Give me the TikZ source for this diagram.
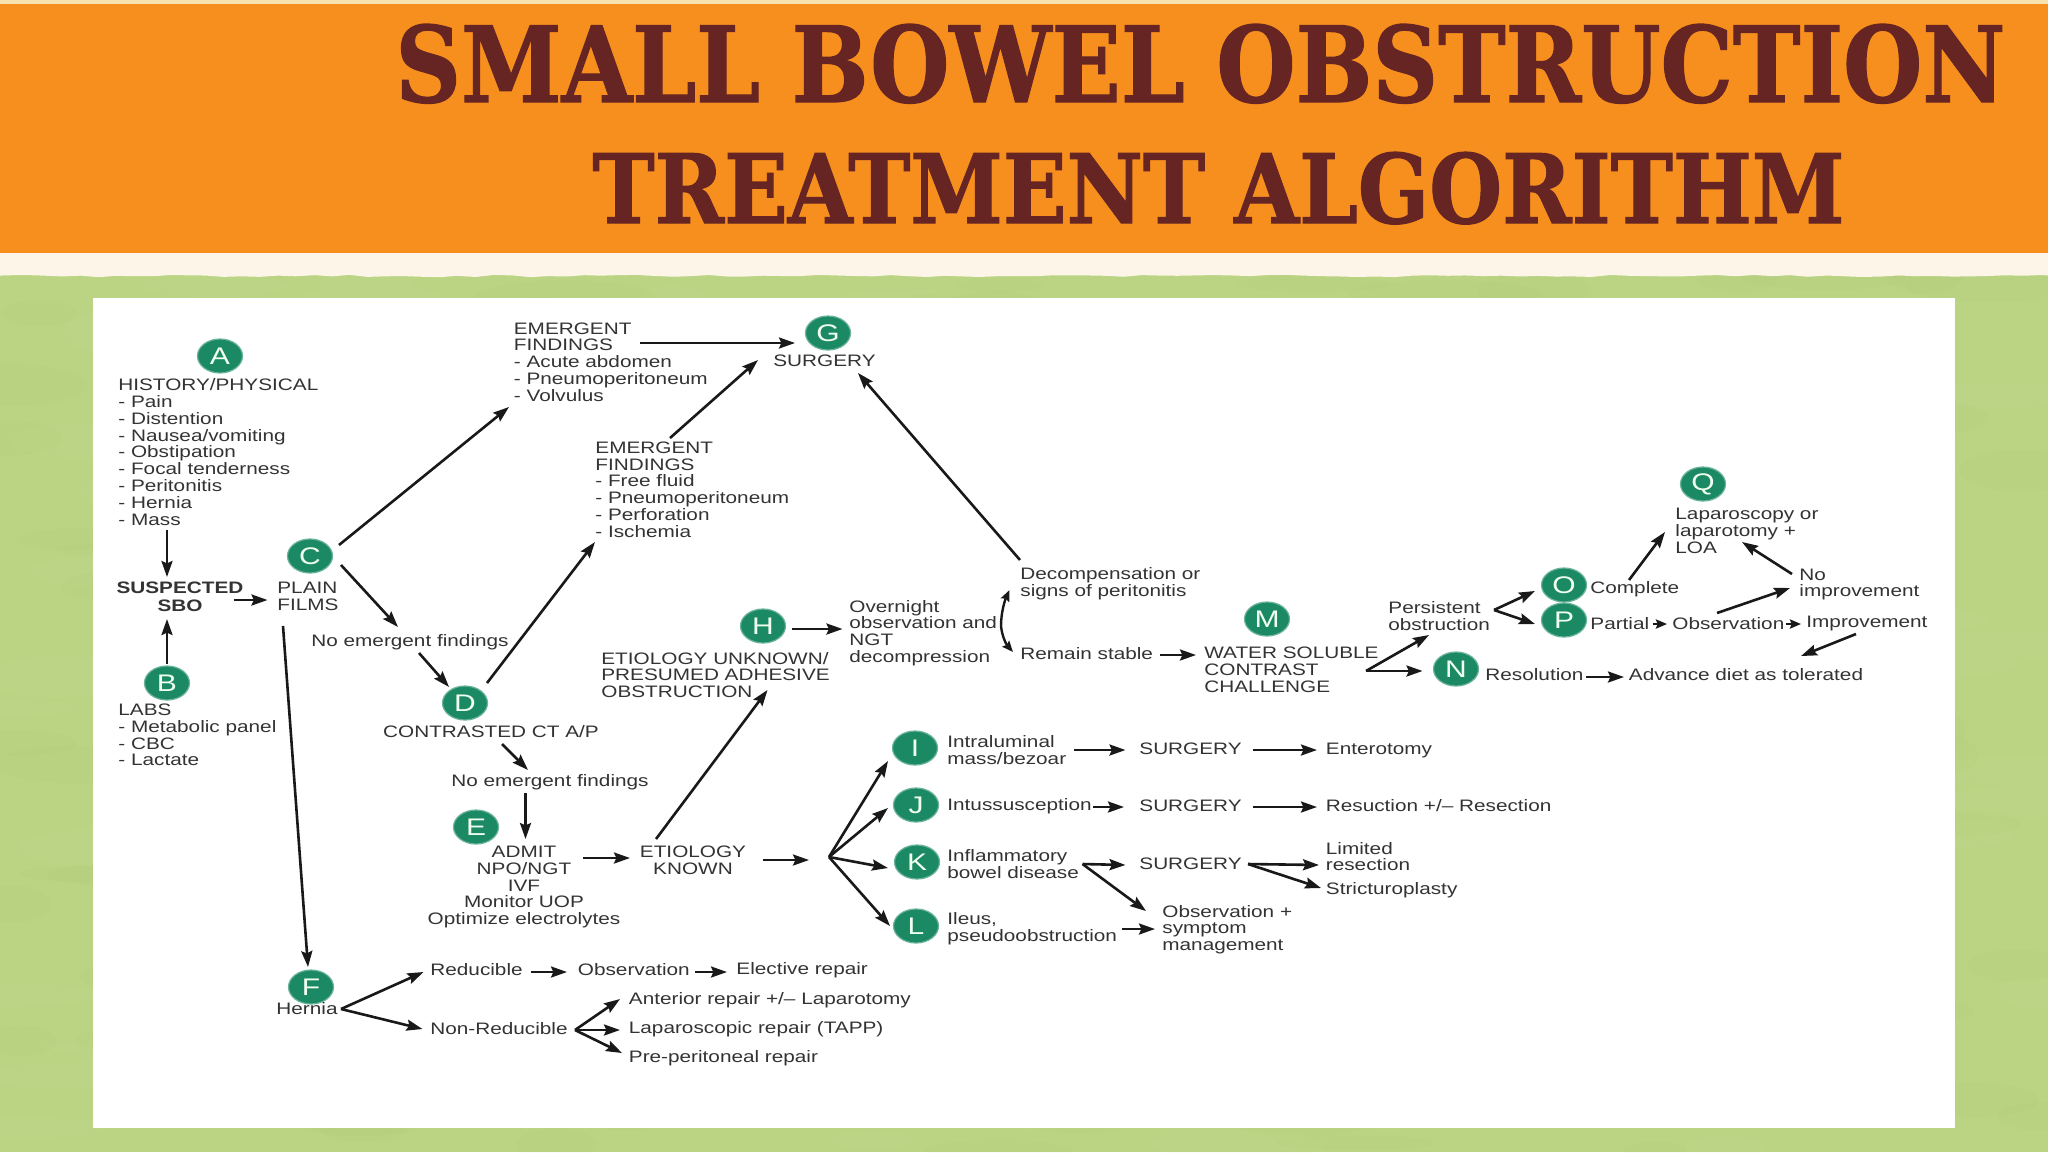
\documentclass[tikz,border=0pt]{standalone}
\usepackage{fontspec}
\usepackage{graphicx}
\usetikzlibrary{arrows.meta,decorations.pathmorphing,shapes.geometric}
\newfontfamily\dsf[FakeStretch=1.25]{Liberation Sans}
\newfontfamily\ttlf[FakeBold=1.2]{DejaVu Serif}
\definecolor{orangeb}{HTML}{F78F1E}
\definecolor{greenb}{HTML}{BAD484}
\definecolor{greend}{HTML}{9DBB68}
\definecolor{greenl}{HTML}{CBE094}
\definecolor{creamb}{HTML}{FDF6E8}
\definecolor{stripb}{HTML}{F6E3AD}
\definecolor{ttlc}{HTML}{662522}
\definecolor{tealc}{HTML}{1B8A64}
\definecolor{ink}{HTML}{333333}
\tikzset{
  txt/.style={inner sep=0pt,anchor=west,align=left,text=ink,font=\dsf\fontsize{8.3}{8.4}\selectfont},
  ctxt/.style={inner sep=0pt,anchor=center,align=center,text=ink,font=\dsf\fontsize{8.3}{8.4}\selectfont},
  bctxt/.style={ctxt,font=\dsf\bfseries\fontsize{8.3}{8.8}\selectfont},
  badge/.style={ellipse,fill=tealc,draw=tealc!65!white,line width=0.6pt,minimum width=22.5pt,minimum height=17pt,inner sep=0pt,text=green!6!white,font=\dsf\fontsize{12}{12}\selectfont},
  arr/.style={draw=black!90,line width=1.3pt,-{Stealth[length=8pt,width=5.5pt,inset=1.2pt]}},
  arrs/.style={draw=black!90,line width=1.2pt,-{Stealth[length=5.5pt,width=4.5pt,inset=0.8pt]}},
  ttl/.style={inner sep=0pt,text=ttlc,anchor=base west}
}
\begin{document}
\begin{tikzpicture}[x=0.5pt,y=-0.5pt]
\useasboundingbox (0,0) rectangle (2048,1152);
% backdrop
\fill[greenb] (0,0) rectangle (2048,1152);
\pgfmathsetseed{7}
\foreach \k in {1,...,170}{
  \pgfmathsetmacro{\mx}{rnd*2048}
  \pgfmathsetmacro{\my}{270+rnd*882}
  \pgfmathsetmacro{\ra}{30+rnd*70}
  \pgfmathsetmacro{\rb}{6+rnd*16}
  \fill[greend,opacity=0.05] (\mx,\my) ellipse [x radius=\ra,y radius=\rb];
  \pgfmathsetmacro{\mx}{rnd*2048}
  \pgfmathsetmacro{\my}{270+rnd*882}
  \fill[greenl,opacity=0.08] (\mx,\my) ellipse [x radius=\ra,y radius=\rb];
}
\fill[stripb] (0,0) rectangle (2048,5);
\fill[creamb,decorate,decoration={random steps,segment length=9pt,amplitude=0.6pt}] (-10,240) -- (-10,276) -- (2058,276) -- (2058,240) -- cycle;
\fill[orangeb] (0,4) rectangle (2048,253);
\fill[white] (93,298) rectangle (1955,1128);
% title
\node[ttl] (title1) at (395,102) {\resizebox{805pt}{39pt}{\ttlf\bfseries SMALL BOWEL OBSTRUCTION}};
\node[ttl] (title2) at (592,223) {\resizebox{626pt}{35.5pt}{\ttlf\bfseries TREATMENT ALGORITHM}};
% badges
\foreach \nm/\px/\py in {A/220/356,B/167/683,C/310/556,D/465/703,E/476/827,F/311/987,G/828/333,H/763/626,I/915/748,J/916/805,K/917/862,L/916/926,M/1267/619,N/1456/669,O/1564/585,P/1564/620,Q/1703/484}
  \node[badge] (c\nm) at (\px,\py) {\nm};
% left column
\node[txt] (tA) at (118,452) {HISTORY/PHYSICAL\\- Pain\\- Distention\\- Nausea/vomiting\\- Obstipation\\- Focal tenderness\\- Peritonitis\\- Hernia\\- Mass};
\node[bctxt] (tSBO) at (180,597) {SUSPECTED\\SBO};
\node[txt] (tC) at (277,596.5) {PLAIN\\FILMS};
\node[txt] (tB) at (118,735) {LABS\\- Metabolic panel\\- CBC\\- Lactate};
\node[ctxt] (tNEF1) at (410,642) {No emergent findings};
\node[ctxt] (tCT) at (491,732) {CONTRASTED CT A/P};
\node[txt] (tEF1) at (513.5,362) {EMERGENT\\FINDINGS\\- Acute abdomen\\- Pneumoperitoneum\\- Volvulus};
\node[txt] (tEF2) at (595,489.5) {EMERGENT\\FINDINGS\\- Free fluid\\- Pneumoperitoneum\\- Perforation\\- Ischemia};
\node[ctxt] (tG) at (824.5,361) {SURGERY};
\node[txt] (tH) at (849,633) {Overnight\\observation and\\NGT\\decompression};
\node[txt] (tU) at (601,675) {ETIOLOGY UNKNOWN/\\PRESUMED ADHESIVE\\OBSTRUCTION};
\node[ctxt] (tNEF2) at (550,782) {No emergent findings};
\node[ctxt] (tE) at (524,887) {ADMIT\\NPO/NGT\\IVF\\Monitor UOP\\Optimize electrolytes};
\node[ctxt] (tK) at (693,860.5) {ETIOLOGY\\KNOWN};
\coordinate (jK) at (829,857);
% I-L rows
\node[txt] (tI) at (947,750) {Intraluminal\\mass/bezoar};
\node[txt] (sI) at (1139,749) {SURGERY};
\node[txt] (tIe) at (1325.5,750) {Enterotomy};
\node[txt] (tJ) at (947,806) {Intussusception};
\node[txt] (sJ) at (1139,806) {SURGERY};
\node[txt] (tJe) at (1325.5,806) {Resuction +/– Resection};
\node[txt] (tKk) at (947,864) {Inflammatory\\bowel disease};
\node[txt] (sK) at (1139,864) {SURGERY};
\coordinate (jKa) at (1082.5,864);
\coordinate (jKb) at (1248,864);
\node[txt] (tLim) at (1325.5,856.5) {Limited\\resection};
\node[txt] (tStr) at (1325.5,890) {Stricturoplasty};
\node[txt] (tL) at (947,929) {Ileus,\\pseudoobstruction};
\node[txt] (tObs) at (1162,929.5) {Observation +\\symptom\\management};
% upper right
\node[txt] (tDec) at (1020,583.5) {Decompensation or\\signs of peritonitis};
\node[txt] (tRem) at (1020,654) {Remain stable};
\coordinate (jB) at (1001,626);
\node[txt] (tW) at (1204,670) {WATER SOLUBLE\\CONTRAST\\CHALLENGE};
\coordinate (jW) at (1366,671);
\node[txt] (tPer) at (1388,616) {Persistent\\obstruction};
\coordinate (jP) at (1494,610);
\node[txt] (tRes) at (1485,675) {Resolution};
\node[txt] (tAdv) at (1628.5,675) {Advance diet as tolerated};
\node[txt] (tCom) at (1590,589) {Complete};
\node[txt] (tPar) at (1590,623.5) {Partial};
\node[txt] (tOb) at (1672,623.5) {Observation};
\node[txt] (tImp) at (1806,623.5) {Improvement};
\node[txt] (tNo) at (1799,584.5) {No\\improvement};
\node[txt] (tLap) at (1675,531) {Laparoscopy or\\laparotomy +\\LOA};
% hernia
\node[ctxt] (tF) at (307,1009) {Hernia};
\coordinate (jF) at (341,1009);
\node[txt] (tRed) at (430,970) {Reducible};
\node[txt] (tObF) at (577.5,970) {Observation};
\node[txt] (tEl) at (736,970) {Elective repair};
\node[txt] (tNon) at (430,1029) {Non-Reducible};
\coordinate (jN) at (575,1030);
\node[txt] (tAnt) at (628.5,1000) {Anterior repair +/– Laparotomy};
\node[txt] (tLapr) at (628.5,1029) {Laparoscopic repair (TAPP)};
\node[txt] (tPre) at (628.5,1058) {Pre-peritoneal repair};
% connectors
\draw[arr] ([shift={(49,78)}]tA.west) -- ([shift={(-13,-20)}]tSBO.center);
\draw[arr] ([shift={(54,3)}]tSBO.center) -- ([shift={(-9.5,3.5)}]tC.west);
\draw[arr] ([shift={(0,-19)}]cB.center) -- ([shift={(-13,22)}]tSBO.center);
\draw[arr] ([shift={(29,-11)}]cC.center) -- ([shift={(-4.5,45)}]tEF1.west);
\draw[arr] ([shift={(31,9)}]cC.center) -- ([shift={(-12,-15)}]tNEF1.center);
\draw[arr] ([shift={(9,11)}]tNEF1.center) -- ([shift={(-16,-16)}]cD.center);
\draw[arr] ([shift={(22,-20)}]cD.center) -- ([shift={(0,52.5)}]tEF2.west);
\draw[arr] ([shift={(126.5,-19)}]tEF1.west) -- ([shift={(-33,10)}]cG.center);
\draw[arr] ([shift={(75,-51.5)}]tEF2.west) -- ([shift={(-66.5,-1)}]tG.center);
\draw[arr] ([shift={(0,-23.5)}]tDec.west) -- ([shift={(33.5,12)}]tG.center);
\draw[arr] ([shift={(28.5,3)}]cH.center) -- ([shift={(-6.5,-4)}]tH.west);
\draw[arr] ([shift={(-37,-21.5)}]tK.center) -- ([shift={(166.5,15)}]tU.west);
\draw[arr] ([shift={(11,12)}]tCT.center) -- ([shift={(-22,-12)}]tNEF2.center);
\draw[arr] ([shift={(-24.5,11)}]tNEF2.center) -- ([shift={(1.5,-48)}]tE.center);
\draw[arr] ([shift={(59,-29)}]tE.center) -- ([shift={(-63,-2.5)}]tK.center);
\draw[arr] ([shift={(70,-0.5)}]tK.center) -- ([shift={(-20,3)}]jK);
\draw[arr] (jK) -- ([shift={(-27,13)}]cI.center);
\draw[arr] (jK) -- ([shift={(-28,3)}]cJ.center);
\draw[arr] (jK) -- ([shift={(-29,6)}]cK.center);
\draw[arr] (jK) -- ([shift={(-26,0)}]cL.center);
\draw[arr] ([shift={(127,0)}]tI.west) -- ([shift={(-13.5,1)}]sI.west);
\draw[arr] ([shift={(114,1)}]sI.west) -- ([shift={(-8.5,0)}]tIe.west);
\draw[arr] ([shift={(146,1)}]tJ.west) -- ([shift={(-15,1)}]sJ.west);
\draw[arr] ([shift={(114,1)}]sJ.west) -- ([shift={(-8.5,1)}]tJe.west);
\draw[arr] (jKa) -- ([shift={(-13.5,1)}]sK.west);
\draw[arr] (jKa) -- ([shift={(-16,-18.5)}]tObs.west);
\draw[arr] (jKb) -- ([shift={(-6.5,8.5)}]tLim.west);
\draw[arr] (jKb) -- ([shift={(-4.5,-2)}]tStr.west);
\draw[arr] ([shift={(175,0)}]tL.west) -- ([shift={(-7,-0.5)}]tObs.west);
\draw[arrs] (jB) .. controls (1001,612) and (1005,600) .. ([shift={(-10.5,6.5)}]tDec.west);
\draw[arrs] (jB) .. controls (1002,636) and (1006,644) .. ([shift={(-7,-2)}]tRem.west);
\draw[arr] ([shift={(140,1)}]tRem.west) -- ([shift={(-8,-15)}]tW.west);
\draw[arr] (jW) -- ([shift={(41,19)}]tPer.west);
\draw[arr] (jW) -- ([shift={(-33.5,2)}]cN.center);
\draw[arr] ([shift={(101,2)}]tRes.west) -- ([shift={(-4.5,2)}]tAdv.west);
\draw[arr] (jP) -- ([shift={(-29,6)}]cO.center);
\draw[arr] (jP) -- ([shift={(-29,4)}]cP.center);
\draw[arr] ([shift={(39,-9)}]tCom.west) -- ([shift={(-10,1)}]tLap.west);
\draw[arrs] ([shift={(62.5,.5)}]tPar.west) -- ([shift={(-5,.5)}]tOb.west);
\draw[arrs] ([shift={(113.5,.5)}]tOb.west) -- ([shift={(-5,.5)}]tImp.west);
\draw[arr] ([shift={(45,-10.5)}]tOb.west) -- ([shift={(-9,3.5)}]tNo.west);
\draw[arr] ([shift={(-7,-10.5)}]tNo.west) -- ([shift={(67,11)}]tLap.west);
\draw[arr] ([shift={(50,10.5)}]tImp.west) -- ([shift={(172.5,-19)}]tAdv.west);
\draw[arr] ([shift={(6,29.5)}]tC.west) -- ([shift={(-3,-20)}]cF.center);
\draw[arr] (jF) -- ([shift={(-6.5,2)}]tRed.west);
\draw[arr] (jF) -- ([shift={(-7.5,0)}]tNon.west);
\draw[arr] ([shift={(100.6,2)}]tRed.west) -- ([shift={(-10.5,2)}]tObF.west);
\draw[arr] ([shift={(117.5,2)}]tObF.west) -- ([shift={(-9,2)}]tEl.west);
\draw[arr] (jN) -- ([shift={(-8.5,-1)}]tAnt.west);
\draw[arr] (jN) -- ([shift={(-8.5,1)}]tLapr.west);
\draw[arr] (jN) -- ([shift={(-6.5,-5)}]tPre.west);
\end{tikzpicture}
\end{document}
